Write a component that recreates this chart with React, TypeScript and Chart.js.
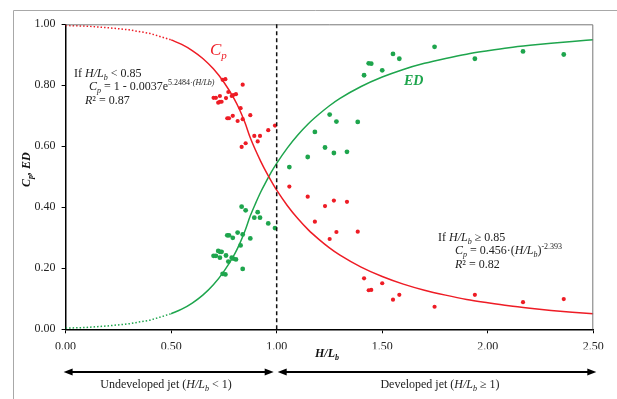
import React, { useEffect, useRef } from "react";
import { Chart, registerables } from "chart.js";
Chart.register(...registerables);

// Observed data (H/Lb, Cp, ED)
const obsH = [0.744, 0.757, 0.839, 0.701, 0.712, 0.731, 0.760, 0.723, 0.731, 0.739, 0.771, 0.787, 0.794, 0.807, 0.829, 0.766, 0.774, 0.792, 0.815, 0.839, 0.875, 0.960, 0.992, 0.894, 0.921, 0.853, 0.834, 0.910, 1.060, 1.147, 1.181, 1.229, 1.251, 1.271, 1.283, 1.333, 1.384, 1.414, 1.436, 1.448, 1.500, 1.551, 1.581, 1.748, 1.939, 2.167, 2.360];
const obsCp = [0.818, 0.820, 0.802, 0.759, 0.759, 0.765, 0.758, 0.743, 0.746, 0.746, 0.778, 0.765, 0.768, 0.771, 0.725, 0.692, 0.692, 0.700, 0.683, 0.689, 0.702, 0.653, 0.668, 0.634, 0.634, 0.610, 0.598, 0.616, 0.468, 0.435, 0.353, 0.404, 0.296, 0.422, 0.319, 0.418, 0.320, 0.167, 0.128, 0.129, 0.151, 0.097, 0.113, 0.074, 0.113, 0.089, 0.099];
const obsEd = [0.182, 0.180, 0.198, 0.241, 0.241, 0.235, 0.242, 0.257, 0.254, 0.254, 0.222, 0.235, 0.232, 0.229, 0.275, 0.308, 0.308, 0.300, 0.317, 0.311, 0.298, 0.347, 0.332, 0.366, 0.366, 0.390, 0.402, 0.384, 0.532, 0.565, 0.647, 0.596, 0.704, 0.578, 0.681, 0.582, 0.680, 0.833, 0.872, 0.871, 0.849, 0.903, 0.887, 0.926, 0.887, 0.911, 0.901];

// Fitted curves
const dotX = [0, 0.1, 0.2, 0.3, 0.4, 0.5];
const cpDot = [0.996, 0.994, 0.989, 0.982, 0.970, 0.949];
const edDot = [0.004, 0.006, 0.011, 0.018, 0.030, 0.051];
const fitX = [0.5, 0.55, 0.6, 0.65, 0.7, 0.75, 0.8, 0.825, 0.85, 0.875, 0.9, 0.925, 0.95, 0.975, 1.0, 1.05, 1.1, 1.15, 1.2, 1.25, 1.3, 1.4, 1.5, 1.6, 1.7, 1.8, 1.9, 2.0, 2.1, 2.2, 2.3, 2.4, 2.5];
const cpFit = [0.949, 0.934, 0.914, 0.888, 0.854, 0.810, 0.754, 0.719, 0.677, 0.628, 0.587, 0.550, 0.516, 0.485, 0.456, 0.406, 0.363, 0.326, 0.295, 0.267, 0.243, 0.204, 0.173, 0.148, 0.128, 0.112, 0.098, 0.087, 0.077, 0.069, 0.062, 0.056, 0.051];
const edFit = [0.051, 0.066, 0.086, 0.112, 0.146, 0.190, 0.246, 0.281, 0.323, 0.372, 0.413, 0.451, 0.484, 0.516, 0.544, 0.594, 0.637, 0.674, 0.705, 0.733, 0.757, 0.796, 0.827, 0.852, 0.872, 0.888, 0.902, 0.913, 0.923, 0.931, 0.938, 0.944, 0.949];

const boundaryX = 1.0;
const xTicks = [0, 0.5, 1.0, 1.5, 2.0, 2.5];
const yTicks = [0, 0.2, 0.4, 0.6, 0.8, 1.0];

const RED = "#ee1c25";
const GREEN = "#1ea54d";
const FAM = '"Liberation Serif", "Times New Roman", serif';
const R = (s: number) => `${s}px ${FAM}`;
const I = (s: number) => `italic ${s}px ${FAM}`;
const BI = (s: number) => `italic bold ${s}px ${FAM}`;

type Seg = { t: string; f: string; dy?: number };

function segWidth(ctx: CanvasRenderingContext2D, segs: Seg[]) {
  let w = 0;
  for (const s of segs) {
    ctx.font = s.f;
    w += ctx.measureText(s.t).width;
  }
  return w;
}

function drawSegs(ctx: CanvasRenderingContext2D, x: number, y: number, segs: Seg[], color: string) {
  let cx = x;
  ctx.fillStyle = color;
  ctx.textBaseline = "alphabetic";
  ctx.textAlign = "left";
  for (const s of segs) {
    ctx.font = s.f;
    ctx.fillText(s.t, cx, y + (s.dy || 0));
    cx += ctx.measureText(s.t).width;
  }
}

function arrowHead(ctx: CanvasRenderingContext2D, x: number, y: number, dir: number) {
  ctx.beginPath();
  ctx.moveTo(x, y);
  ctx.lineTo(x - dir * 9, y - 3.5);
  ctx.lineTo(x - dir * 9, y + 3.5);
  ctx.closePath();
  ctx.fill();
}

const decorPlugin = {
  id: "decor",
  beforeDraw(chart: any) {
    const ctx = chart.ctx as CanvasRenderingContext2D;
    ctx.save();
    ctx.strokeStyle = "#a8a8a8";
    ctx.lineWidth = 1;
    ctx.beginPath();
    ctx.moveTo(13.5, 399);
    ctx.lineTo(13.5, 10.5);
    ctx.lineTo(617, 10.5);
    ctx.stroke();
    ctx.restore();
  },
  afterDraw(chart: any) {
    const ctx = chart.ctx as CanvasRenderingContext2D;
    const xs = chart.scales.x;
    const ys = chart.scales.y;
    const a = chart.chartArea;
    ctx.save();
    // plot area top/right border
    ctx.strokeStyle = "#777";
    ctx.lineWidth = 1;
    ctx.beginPath();
    ctx.moveTo(a.left, a.top + 0.5);
    ctx.lineTo(a.right - 0.5, a.top + 0.5);
    ctx.lineTo(a.right - 0.5, a.bottom);
    ctx.stroke();

    // dashed boundary line
    const bx = xs.getPixelForValue(boundaryX);
    ctx.strokeStyle = "#111";
    ctx.lineWidth = 1.5;
    ctx.setLineDash([4, 3]);
    ctx.beginPath();
    ctx.moveTo(bx, ys.getPixelForValue(1));
    ctx.lineTo(bx, ys.getPixelForValue(0));
    ctx.stroke();
    ctx.setLineDash([]);

    // curve labels
    drawSegs(ctx, 210, 55, [{ t: "C", f: I(17) }, { t: "p", f: I(11), dy: 4 }], RED);
    drawSegs(ctx, 404, 85, [{ t: "ED", f: BI(14) }], GREEN);

    const tc = "#222";
    // left equation
    drawSegs(ctx, 74, 77, [
      { t: "If ", f: R(12) }, { t: "H/L", f: I(12) }, { t: "b", f: I(8), dy: 3 }, { t: " < 0.85", f: R(12) },
    ], tc);
    drawSegs(ctx, 89, 90, [
      { t: "C", f: I(12) }, { t: "p", f: I(8), dy: 3 }, { t: " = 1 - 0.0037e", f: R(12) },
      { t: "5.2484·", f: R(8), dy: -5 }, { t: "(H/Lb)", f: I(8), dy: -5 },
    ], tc);
    drawSegs(ctx, 85, 104, [
      { t: "R", f: I(12) }, { t: "²", f: R(12) }, { t: " = 0.87", f: R(12) },
    ], tc);

    // right equation
    drawSegs(ctx, 438, 241, [
      { t: "If ", f: R(12) }, { t: "H/L", f: I(12) }, { t: "b", f: I(8), dy: 3 }, { t: " ≥ 0.85", f: R(12) },
    ], tc);
    drawSegs(ctx, 455, 254, [
      { t: "C", f: I(12) }, { t: "p", f: I(8), dy: 3 }, { t: " = 0.456·(", f: R(12) },
      { t: "H/L", f: I(12) }, { t: "b", f: I(8), dy: 3 }, { t: ")", f: R(12) }, { t: "-2.393", f: R(8), dy: -5 },
    ], tc);
    drawSegs(ctx, 455, 268, [
      { t: "R", f: I(12) }, { t: "²", f: R(12) }, { t: " = 0.82", f: R(12) },
    ], tc);

    // axis titles
    drawSegs(ctx, 315, 357, [{ t: "H/L", f: BI(12) }, { t: "b", f: BI(8), dy: 3 }], "#111");
    ctx.save();
    ctx.translate(30, 187);
    ctx.rotate(-Math.PI / 2);
    drawSegs(ctx, 0, 0, [{ t: "C", f: BI(12) }, { t: "p", f: BI(8), dy: 3 }, { t: ", ED", f: BI(12) }], "#111");
    ctx.restore();

    // bottom arrows
    const ay = 372;
    const x0 = xs.getPixelForValue(0) - 2;
    const x1 = bx - 3;
    const x2 = bx + 1;
    const x3 = a.right + 3;
    ctx.strokeStyle = "#000";
    ctx.fillStyle = "#000";
    ctx.lineWidth = 2;
    ctx.beginPath();
    ctx.moveTo(x0 + 6, ay);
    ctx.lineTo(x1 - 6, ay);
    ctx.moveTo(x2 + 6, ay);
    ctx.lineTo(x3 - 6, ay);
    ctx.stroke();
    arrowHead(ctx, x0, ay, -1);
    arrowHead(ctx, x1, ay, 1);
    arrowHead(ctx, x2, ay, -1);
    arrowHead(ctx, x3, ay, 1);

    const lab1: Seg[] = [
      { t: "Undeveloped jet (", f: R(12) }, { t: "H/L", f: I(12) }, { t: "b", f: I(8), dy: 3 }, { t: " < 1)", f: R(12) },
    ];
    const lab2: Seg[] = [
      { t: "Developed jet (", f: R(12) }, { t: "H/L", f: I(12) }, { t: "b", f: I(8), dy: 3 }, { t: " ≥ 1)", f: R(12) },
    ];
    drawSegs(ctx, 166 - segWidth(ctx, lab1) / 2, 388, lab1, tc);
    drawSegs(ctx, 440 - segWidth(ctx, lab2) / 2, 388, lab2, tc);
    ctx.restore();
  },
};

const pts = (xs: number[], ys: number[]) => xs.map((x, i) => ({ x, y: ys[i] }));

export default function App() {
  const ref = useRef<HTMLCanvasElement | null>(null);
  useEffect(() => {
    if (!ref.current) return;
    const chart = new Chart(ref.current, {
      type: "scatter",
      data: {
        datasets: [
          { data: pts(dotX, cpDot), showLine: true, borderColor: RED, borderWidth: 1.5, borderDash: [1.5, 2], pointRadius: 0, order: 2 },
          { data: pts(fitX, cpFit), showLine: true, borderColor: RED, borderWidth: 1.5, cubicInterpolationMode: "monotone", pointRadius: 0, order: 2 },
          { data: pts(dotX, edDot), showLine: true, borderColor: GREEN, borderWidth: 1.5, borderDash: [1.5, 2], pointRadius: 0, order: 2 },
          { data: pts(fitX, edFit), showLine: true, borderColor: GREEN, borderWidth: 1.5, cubicInterpolationMode: "monotone", pointRadius: 0, order: 2 },
          { data: pts(obsH, obsCp), backgroundColor: RED, borderWidth: 0, pointRadius: 2.1, order: 1 },
          { data: pts(obsH, obsEd), backgroundColor: GREEN, borderWidth: 0, pointRadius: 2.4, order: 1 },
        ],
      } as any,
      options: {
        responsive: false,
        animation: false,
        devicePixelRatio: 1,
        layout: { padding: { left: 15.6, right: 23.7, top: 24.3, bottom: 49.7 } },
        plugins: { legend: { display: false }, tooltip: { enabled: false } },
        scales: {
          x: {
            type: "linear",
            min: 0,
            max: 2.5,
            afterBuildTicks: (s: any) => { s.ticks = xTicks.map((v) => ({ value: v })); },
            afterFit: (s: any) => { s.height = 20; },
            ticks: { font: { family: FAM, size: 12 }, color: "#222", padding: 6, callback: (v: any) => Number(v).toFixed(2), maxRotation: 0 },
            grid: { drawOnChartArea: false, drawTicks: true, tickLength: 4, color: "#000" },
            border: { display: true, color: "#000", width: 1.5 },
          },
          y: {
            type: "linear",
            min: 0,
            max: 1,
            afterBuildTicks: (s: any) => { s.ticks = yTicks.map((v) => ({ value: v })); },
            afterFit: (s: any) => { s.width = 50; },
            ticks: { font: { family: FAM, size: 12 }, color: "#222", padding: 6, callback: (v: any) => Number(v).toFixed(2) },
            grid: { drawOnChartArea: false, drawTicks: true, tickLength: 4, color: "#000" },
            border: { display: true, color: "#000", width: 1.5 },
          },
        },
      },
      plugins: [decorPlugin],
    } as any);
    return () => chart.destroy();
  }, []);
  return (
    <div style={{ position: "fixed", left: 0, top: 0, width: 617, height: 399, background: "#fff" }}>
      <canvas ref={ref} width={617} height={399} style={{ display: "block" }} />
    </div>
  );
}
